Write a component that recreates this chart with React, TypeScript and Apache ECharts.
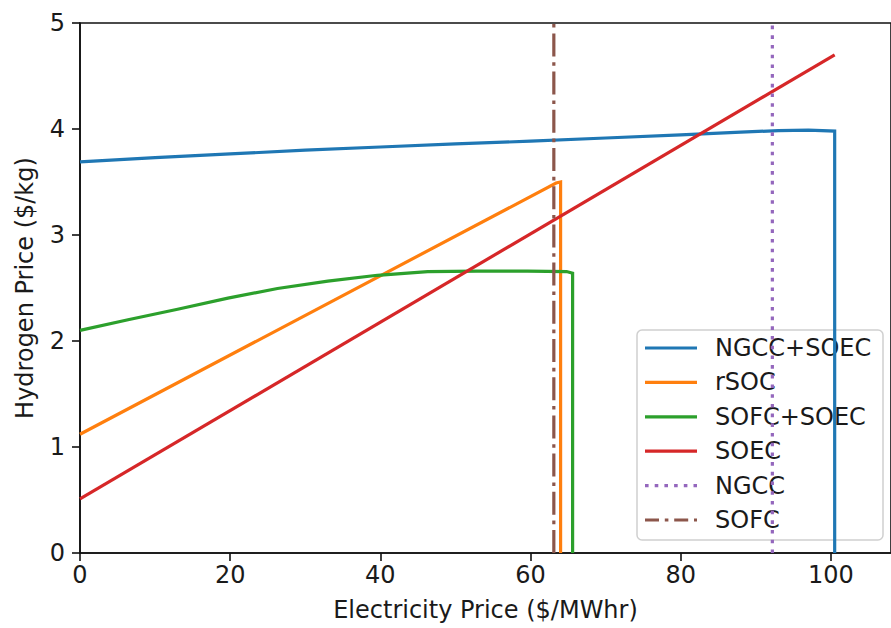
import React, { useEffect, useRef } from "react";
import * as echarts from "echarts";

// Hydrogen price versus electricity price for each plant configuration
const seriesNames = ["NGCC+SOEC", "rSOC", "SOFC+SOEC", "SOEC", "NGCC", "SOFC"];
const seriesColors = ["#1f77b4", "#ff7f0e", "#2ca02c", "#d62728", "#9467bd", "#8c564b"];

const ngccSoec: [number, number][] = [
  [0, 3.69], [10, 3.73], [20, 3.765], [30, 3.8], [40, 3.83], [50, 3.86],
  [60, 3.885], [70, 3.915], [80, 3.945], [88, 3.97], [93, 3.985], [97, 3.99],
  [100.5, 3.98], [100.5, 0],
];
const rSoc: [number, number][] = [
  [0, 1.12], [63.4, 3.49], [64.0, 3.5], [64.0, 0],
];
const sofcSoec: [number, number][] = [
  [0, 2.1], [6.4, 2.2], [13, 2.3], [19.7, 2.405], [26.3, 2.495], [33, 2.565],
  [39.6, 2.62], [46.3, 2.655], [52.9, 2.66], [59.6, 2.66], [64.8, 2.655],
  [65.6, 2.64], [65.6, 0],
];
const soec: [number, number][] = [
  [0, 0.51], [100.5, 4.7],
];
const ngcc: [number, number][] = [
  [92.2, 0], [92.2, 5],
];
const sofc: [number, number][] = [
  [63.1, 0], [63.1, 5],
];

const xTicks = [0, 20, 40, 60, 80, 100];
const yTicks = [0, 1, 2, 3, 4, 5];

const FONT = "DejaVu Sans";
const TEXT = "#1a1a1a";
const LINE_W = 3.2;
const DOTTED = [3.6, 6.1];
const DASH_DOT = [23, 5.8, 3.6, 5.8];

export default function App() {
  const ref = useRef<HTMLDivElement>(null);

  useEffect(() => {
    if (!ref.current) return;
    const chart = echarts.init(ref.current, undefined, { renderer: "svg" });

    const allData = [ngccSoec, rSoc, sofcSoec, soec, ngcc, sofc];
    const lineTypes: any[] = ["solid", "solid", "solid", "solid", DOTTED, DASH_DOT];

    const series = allData.map((d, i) => ({
      name: seriesNames[i],
      type: "line",
      data: d,
      showSymbol: false,
      symbol: "none",
      clip: true,
      lineStyle: {
        color: seriesColors[i],
        width: LINE_W,
        type: lineTypes[i],
        cap: "butt",
        join: "miter",
      },
      itemStyle: { color: seriesColors[i] },
      z: 2 + i,
    }));

    // legend box drawn in the lower right of the plot
    const lgX = 637;
    const lgY = 330;
    const rowY0 = 348;
    const rowStep = 34.4;
    const legendChildren: any[] = [
      {
        type: "rect",
        shape: { x: lgX, y: lgY, width: 246, height: 210, r: 5 },
        style: { fill: "rgba(255,255,255,0.8)", stroke: "#d0d0d0", lineWidth: 1.5 },
      },
    ];
    seriesNames.forEach((name, i) => {
      const y = rowY0 + i * rowStep;
      legendChildren.push({
        type: "line",
        shape: { x1: 645, y1: y, x2: 697, y2: y },
        style: {
          stroke: seriesColors[i],
          lineWidth: LINE_W,
          lineDash: i === 4 ? DOTTED : i === 5 ? [14, 5.8, 3.6, 5.8] : null,
        },
      });
      legendChildren.push({
        type: "text",
        x: 715,
        y: y,
        style: {
          text: name,
          font: `24px "${FONT}"`,
          fill: TEXT,
          verticalAlign: "middle",
          align: "left",
        },
      });
    });

    chart.setOption({
      animation: false,
      backgroundColor: "#ffffff",
      grid: {
        left: 80,
        top: 23,
        width: 812,
        height: 530,
        show: true,
        borderColor: "#111",
        borderWidth: 1.6,
        backgroundColor: "transparent",
        containLabel: false,
      },
      xAxis: {
        type: "value",
        min: 0,
        max: 108,
        interval: 20,
        name: "Electricity Price ($/MWhr)",
        nameLocation: "middle",
        nameGap: 45,
        nameTextStyle: { fontFamily: FONT, fontSize: 24, color: TEXT },
        splitLine: { show: false },
        axisLine: { show: true, onZero: false, lineStyle: { color: "#111", width: 1.6 } },
        axisTick: { show: true, inside: false, length: 8, lineStyle: { color: "#111", width: 1.6 } },
        axisLabel: {
          fontFamily: FONT,
          fontSize: 24,
          color: TEXT,
          margin: 10,
          showMaxLabel: false,
          formatter: (v: number) => (xTicks.includes(v) ? String(v) : ""),
        },
      },
      yAxis: {
        type: "value",
        min: 0,
        max: 5,
        interval: 1,
        name: "Hydrogen Price ($/kg)",
        nameLocation: "middle",
        nameGap: 43,
        nameRotate: 90,
        nameTextStyle: { fontFamily: FONT, fontSize: 24, color: TEXT },
        splitLine: { show: false },
        axisLine: { show: true, onZero: false, lineStyle: { color: "#111", width: 1.6 } },
        axisTick: { show: true, inside: false, length: 8, lineStyle: { color: "#111", width: 1.6 } },
        axisLabel: {
          fontFamily: FONT,
          fontSize: 24,
          color: TEXT,
          margin: 15,
          formatter: (v: number) => (yTicks.includes(v) ? String(v) : ""),
        },
      },
      series,
      graphic: [{ type: "group", z: 100, children: legendChildren }],
    });

    return () => chart.dispose();
  }, []);

  return (
    <div
      ref={ref}
      style={{ position: "fixed", left: 0, top: 0, width: 891, height: 628 }}
    />
  );
}
